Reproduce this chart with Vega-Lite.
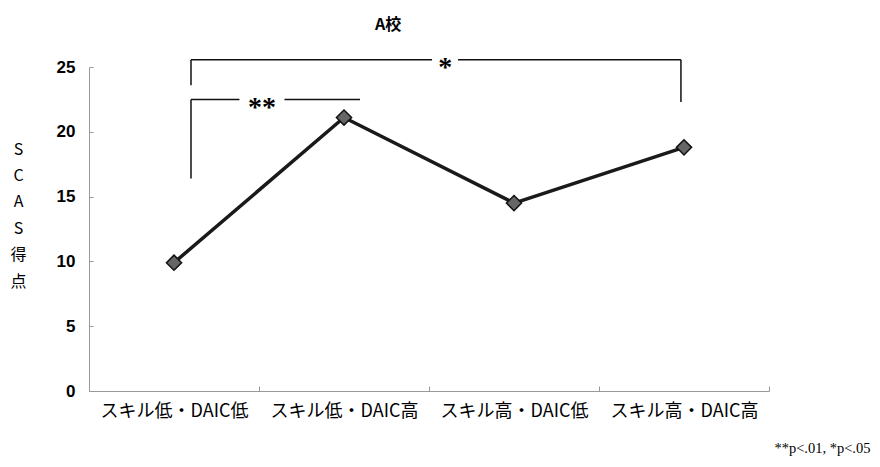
{
  "$schema": "https://vega.github.io/schema/vega-lite/v6.json",
  "width": 680,
  "height": 324,
  "autosize": "none",
  "padding": {"left": 89, "top": 67, "right": 111, "bottom": 76},
  "background": "white",
  "title": {"text": "A校", "font": "Noto Sans CJK JP", "fontSize": 16, "fontWeight": "bold", "color": "#000", "dx": -41, "offset": 21, "anchor": "middle"},
  "config": {"view": {"stroke": null}, "axis": {"grid": false}},
  "datasets": {
    "scores": [
      {"condition": "スキル低・DAIC低", "score": 9.9},
      {"condition": "スキル低・DAIC高", "score": 21.1},
      {"condition": "スキル高・DAIC低", "score": 14.5},
      {"condition": "スキル高・DAIC高", "score": 18.8}
    ],
    "brackets": [
      {"x1": 1.1, "x2": 2.518, "y1": 25.55, "y2": 25.55},
      {"x1": 2.671, "x2": 3.982, "y1": 25.55, "y2": 25.55},
      {"x1": 1.1, "x2": 1.1, "y1": 25.55, "y2": 23.6},
      {"x1": 3.982, "x2": 3.982, "y1": 25.55, "y2": 22.3},
      {"x1": 1.1, "x2": 1.385, "y1": 22.5, "y2": 22.5},
      {"x1": 1.65, "x2": 2.094, "y1": 22.5, "y2": 22.5},
      {"x1": 1.1, "x2": 1.1, "y1": 22.5, "y2": 16.4}
    ],
    "stars": [
      {"x": 2.595, "y": 24.95, "label": "*"},
      {"x": 1.517, "y": 21.85, "label": "**"}
    ]
  },
  "layer": [
    {
      "layer": [
        {
          "data": {"name": "scores"},
          "mark": {"type": "line", "color": "#1a1a1a", "strokeWidth": 3.5},
          "encoding": {
            "x": {
              "field": "condition", "type": "nominal", "sort": null,
              "scale": {"paddingInner": 0, "paddingOuter": 0},
              "axis": {
                "title": "**p<.01, *p<.05",
                "titleFont": "Liberation Serif", "titleFontSize": 14.5, "titleFontWeight": "normal", "titleColor": "#000",
                "titleX": 781, "titleY": 57, "titleAlign": "right", "titleBaseline": "middle", "titleAnchor": null,
                "labelAngle": 0, "labelFont": "Noto Sans CJK JP", "labelFontSize": 18, "labelColor": "#000",
                "labelPadding": 16, "tickBand": "extent", "tickSize": -5, "tickColor": "#999",
                "domainColor": "#999", "domainWidth": 1
              }
            },
            "y": {
              "field": "score", "type": "quantitative",
              "scale": {"domain": [0, 25], "nice": false},
              "axis": {
                "values": [0, 5, 10, 15, 20, 25],
                "title": ["S", "C", "A", "S", "得", "点"],
                "titleAngle": 0, "titleFont": "Noto Sans CJK JP", "titleFontSize": 16, "titleFontWeight": "normal",
                "titleLineHeight": 26.4, "titleColor": "#000",
                "titleX": -71, "titleY": 74, "titleAlign": "center", "titleBaseline": "top",
                "labelFont": "Liberation Sans", "labelFontSize": 17, "labelFontWeight": "bold", "labelColor": "#000",
                "labelPadding": 18, "tickSize": -4, "tickColor": "#999",
                "domainColor": "#999", "domainWidth": 1
              }
            }
          }
        },
        {
          "data": {"name": "scores"},
          "mark": {"type": "point", "shape": "diamond", "size": 230, "filled": true, "fill": "#666", "stroke": "#111", "strokeWidth": 1.5, "opacity": 1},
          "encoding": {
            "x": {"field": "condition", "type": "nominal", "sort": null},
            "y": {"field": "score", "type": "quantitative"}
          }
        }
      ]
    },
    {
      "layer": [
        {
          "data": {"name": "brackets"},
          "mark": {"type": "rule", "color": "#111", "strokeWidth": 1.5},
          "encoding": {
            "x": {"field": "x1", "type": "quantitative", "scale": {"domain": [0.5, 4.5], "nice": false, "zero": false}, "axis": null},
            "x2": {"field": "x2"},
            "y": {"field": "y1", "type": "quantitative"},
            "y2": {"field": "y2"}
          }
        },
        {
          "data": {"name": "stars"},
          "mark": {"type": "text", "font": "Liberation Serif", "fontSize": 28, "fontWeight": "bold", "baseline": "middle", "align": "center", "color": "#000"},
          "encoding": {
            "x": {"field": "x", "type": "quantitative", "axis": null},
            "y": {"field": "y", "type": "quantitative"},
            "text": {"field": "label"}
          }
        }
      ]
    }
  ],
  "resolve": {"scale": {"x": "independent"}}
}
